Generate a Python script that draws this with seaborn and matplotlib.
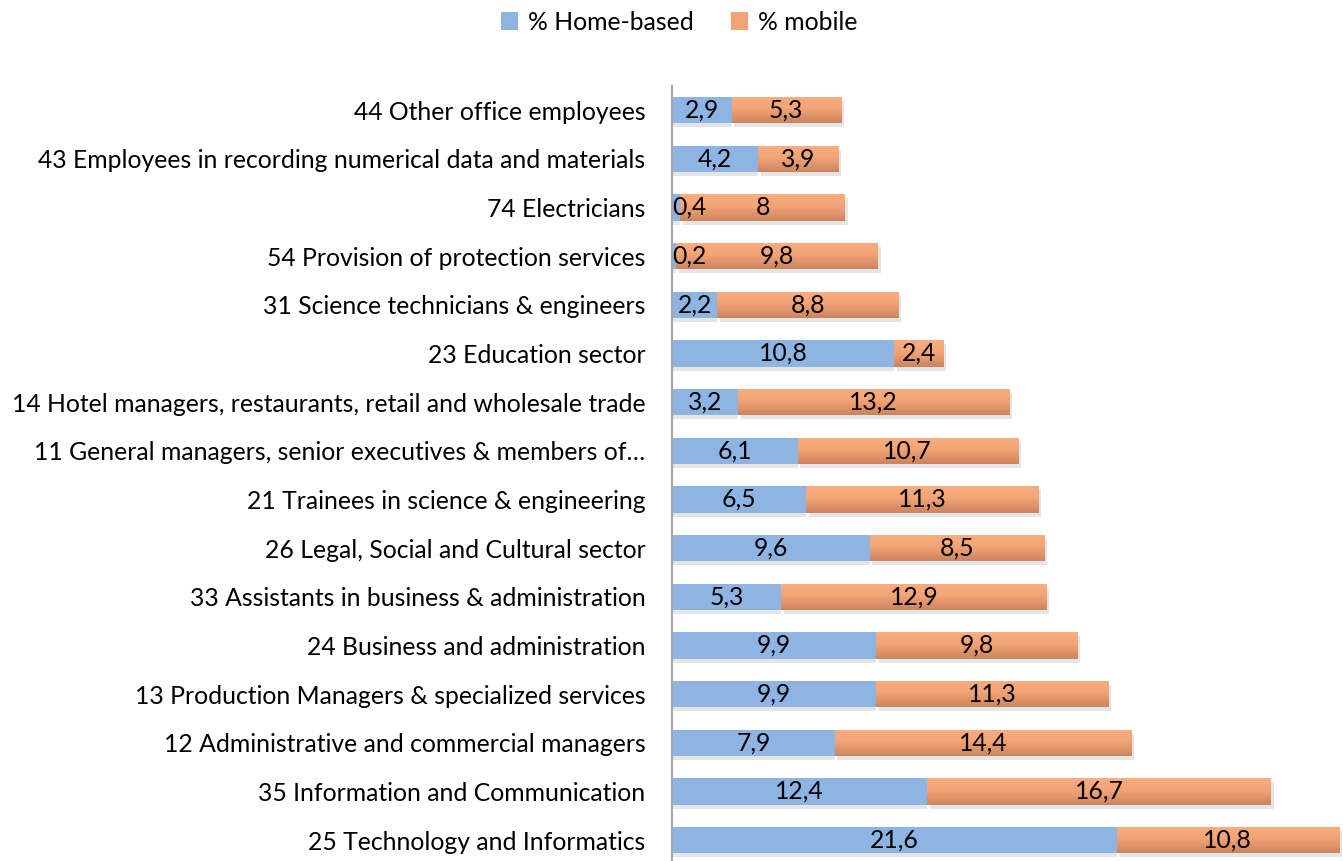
import numpy as np
import pandas as pd
import matplotlib
matplotlib.use("Agg")
import matplotlib.pyplot as plt
import seaborn as sns
from matplotlib.patches import Patch
from matplotlib import patheffects as pe
from matplotlib.colors import LinearSegmentedColormap

categories = [
    "44 Other office employees",
    "43 Employees in recording numerical data and materials",
    "74 Electricians",
    "54 Provision of protection services",
    "31 Science technicians & engineers",
    "23 Education sector",
    "14 Hotel managers, restaurants, retail and wholesale trade",
    "11 General managers, senior executives & members of\u2026",
    "21 Trainees in science & engineering",
    "26 Legal, Social and Cultural sector",
    "33 Assistants in business & administration",
    "24 Business and administration",
    "13 Production Managers & specialized services",
    "12 Administrative and commercial managers",
    "35 Information and Communication",
    "25 Technology and Informatics",
]
home_based = [2.9, 4.2, 0.4, 0.2, 2.2, 10.8, 3.2, 6.1, 6.5, 9.6, 5.3, 9.9, 9.9, 7.9, 12.4, 21.6]
mobile = [5.3, 3.9, 8, 9.8, 8.8, 2.4, 13.2, 10.7, 11.3, 8.5, 12.9, 9.8, 11.3, 14.4, 16.7, 10.8]
series_names = ["% Home-based", "% mobile"]

BLUE = "#8EB4E3"
ORANGE_TOP = "#FCAD80"
ORANGE_MID = "#F3A476"
ORANGE_BOT = "#CC845E"
FONT = "Lato"
FS = 17.8

df = pd.DataFrame({"category": categories, "home": home_based, "mobile": mobile})
df["total"] = df["home"] + df["mobile"]

sns.set_style("white")
plt.rcParams["font.family"] = [FONT, "DejaVu Sans"]
plt.rcParams["text.color"] = "black"
plt.rcParams["ytick.color"] = "black"

fig = plt.figure(figsize=(13.43, 8.61), dpi=100)
ax = fig.add_axes([672 / 1343, 0.0, 671 / 1343, (861 - 85.7) / 861])

def soft_shadow(dx, dy):
    return [pe.SimplePatchShadow(offset=(dx, dy), shadow_rgbFace="#9a9a9a", alpha=0.25),
            pe.Normal()]

# stacked bars: totals first, then trimmed to the mobile segment
sns.barplot(data=df, x="total", y="category", orient="h", color=ORANGE_TOP,
            saturation=1, width=0.54, ax=ax, zorder=2)
mob_bars = list(ax.patches)
for p, h, m in zip(mob_bars, df["home"], df["mobile"]):
    p.set_x(h)
    p.set_width(m)
    p.set_linewidth(0)
    p.set_path_effects(soft_shadow(2, -3))

sns.barplot(data=df, x="home", y="category", orient="h", color=BLUE,
            saturation=1, width=0.54, ax=ax, zorder=3)
home_bars = [p for p in ax.patches if p not in mob_bars]
for p in home_bars:
    p.set_linewidth(0)
    p.set_path_effects(soft_shadow(0, -3))

# vertical gradient fill on the mobile segments
cmap = LinearSegmentedColormap.from_list(
    "mob", [(0, ORANGE_TOP), (0.45, ORANGE_MID), (1, ORANGE_BOT)])
grad = np.linspace(0, 1, 64).reshape(-1, 1)
for p in mob_bars:
    x0, y0 = p.get_x(), p.get_y()
    x1, y1 = x0 + p.get_width(), y0 + p.get_height()
    im = ax.imshow(grad, extent=(x0, x1, y1, y0), origin="upper", aspect="auto",
                   cmap=cmap, zorder=2.5, interpolation="bilinear")
    im.set_clip_path(p)

fmt = lambda v: f"{v:g}".replace(".", ",")
ax.bar_label(ax.containers[0], labels=[fmt(v) for v in mobile], label_type="center",
             fontsize=FS, color="black", zorder=5)
home_labels = ax.bar_label(ax.containers[1], labels=[fmt(v) for v in home_based],
                           label_type="center", fontsize=FS, color="black", zorder=5)

# labels wider than their bar are kept inside the plot area, starting at the axis
for txt, v in zip(home_labels, home_based):
    if v < 1:
        txt.set_position((0, txt.get_position()[1]))
        txt.xy = (0, txt.xy[1])
        txt.set_ha("left")

ax.set_xlim(0, 32.6)
ax.set_ylim(15.43, -0.5)
ax.set_xlabel("")
ax.set_ylabel("")
ax.set_xticks([])
ax.tick_params(axis="y", length=0, pad=19, labelsize=FS, labelcolor="black")
for s in ["top", "right", "bottom"]:
    ax.spines[s].set_visible(False)
ax.spines["left"].set_color("#A6A6A6")
ax.spines["left"].set_linewidth(1.5)
ax.spines["left"].set_zorder(6)

handles = [Patch(facecolor=BLUE, edgecolor="none"),
           Patch(facecolor=ORANGE_MID, edgecolor="none")]
fig.legend(handles, series_names, loc="center", bbox_to_anchor=(679 / 1343, 1 - 22 / 861),
           ncol=2, frameon=False, fontsize=FS, handlelength=0.7, handleheight=0.7,
           handletextpad=0.4, columnspacing=1.5)

fig.savefig("out.png", dpi=100)
